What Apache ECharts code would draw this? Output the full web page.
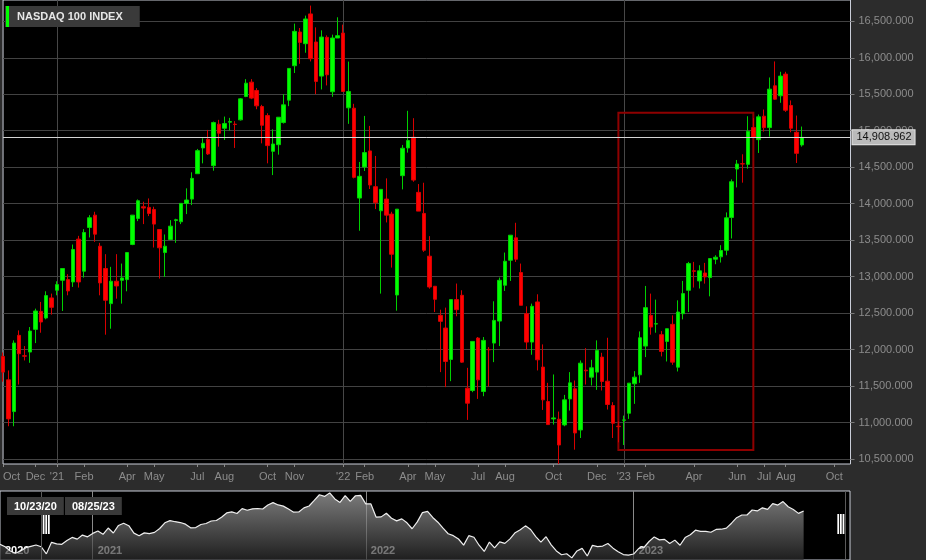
<!DOCTYPE html>
<html><head><meta charset="utf-8">
<script src="https://cdn.jsdelivr.net/npm/echarts@6/dist/echarts.min.js"></script>
<style>html,body{margin:0;padding:0;background:#2c2c2c;}#c{width:926px;height:560px;}</style>
</head><body><div id="c"></div>
<script>
// ---- data ----
const seriesName = 'NASDAQ 100 INDEX';
const startDate = '2020-10-23';      // first weekly candle
const mainWeeks = 158;               // weekly categories on the main axis
const navStartDate = '2020-08-28';   // navigator starts earlier
const navWeeks = 166;

const opens = [11906,11585,11150,12195,11915,11966,12277,12524,12433,12708,12813,12950,12959,12927,13514,13074,13674,13843,13417,13111,
12630,12937,12950,12959,13440,13798,13958,13949,13921,13646,13330,13509,13770,13752,14004,14063,14411,14764,14883,14521,
15089,15034,15117,15090,15149,15469,15666,15552,15332,15208,14718,14809,15112,15419,15891,16353,16193,16601,16216,15749,
16280,15534,16271,16339,15314,15309,14077,14503,14723,14233,13903,14063,13857,12748,14384,14764,14911,14155,13866,13280,
12868,12469,12295,11865,12685,12744,11471,11439,12158,11425,12002,12089,12391,12882,13225,13532,13056,12492,12103,12653,
11760,11288,11050,11045,10967,11324,11462,10898,11718,11622,11691,11897,11567,11233,10949,11031,11127,11531,11654,12048,
12469,12350,12204,12112,12346,11759,12492,12813,13079,12941,13050,12987,13239,13271,13362,13811,14475,14548,14539,15043,
14878,15199,15043,15616,15479,15776,15346,14979,14805];
const closes = [11691,11050,12089,11943,11910,12254,12529,12378,12740,12579,12891,13111,12804,13372,12927,13605,13807,13582,12914,12676,
12937,12872,12982,13330,13843,14040,13940,13866,13720,13395,13417,13692,13780,14004,14050,14347,14727,14828,14682,15112,
14966,15098,15126,15085,15437,15652,15447,15341,15075,14796,14818,15185,15355,15854,16362,16211,16532,15987,15676,16284,
15767,16271,16303,15538,15538,14361,14375,14700,14256,14013,14196,13843,13307,13925,14760,14865,14324,13898,13362,12858,
12689,12387,11837,12685,12547,11828,11265,12112,11585,12126,11997,12400,12950,13211,13568,13239,12607,12103,12593,11860,
11311,10972,11063,10692,11311,11544,10857,11814,11709,11750,11988,11563,11247,10990,10944,11036,11540,11622,12162,12575,
12309,12355,11975,12286,11828,12515,12767,13179,13074,13079,12996,13248,13266,13358,13806,14301,14544,14544,14992,14910,
15190,15043,15570,15432,15749,15281,15034,14690,14908.962];
const highs = [11960,11714,12126,12263,12048,12309,12561,12653,12799,12767,12937,13111,13033,13440,13559,13651,13843,13889,13463,13308,
13134,13308,13179,13330,13843,14058,14027,14072,13958,13646,13578,13774,13793,14004,14210,14430,14750,14896,15011,15126,
15149,15194,15176,15131,15447,15707,15707,15584,15355,15240,15020,15185,15501,15854,16468,16408,16578,16715,16417,16376,
16307,16317,16555,16454,15948,15369,14572,15203,15066,14654,14196,14347,13889,13925,14805,15273,15172,14269,14287,13555,
12868,12547,12575,12685,12905,12813,11750,12112,12172,12172,12034,12662,12987,13330,13568,13738,13179,12593,12630,12758,
12071,11544,11659,11150,11379,11691,11576,11851,12020,11860,12126,11956,12162,11279,11017,11095,11540,11704,12249,12872,
12767,12685,12254,12286,12469,12675,12941,13202,13202,13156,13188,13248,13293,13431,13880,14333,14599,14677,15199,15172,
15222,15291,15730,15950,15808,15808,15415,15208,15057];
const lows = [11560,10949,10949,11521,11851,11819,12089,12231,12415,12479,12744,12529,12744,12859,12850,12987,13537,13477,12744,12204,
12286,12698,12630,12799,13431,13761,13720,13830,13399,12973,12996,13500,13463,13720,13857,13981,14411,14553,14668,14452,
14782,14874,15002,14764,15140,15460,15433,15295,14827,14553,14392,14672,15098,15337,15791,15918,16069,15950,15502,15566,
15621,15465,16271,15538,15094,14347,13629,14448,14201,13926,12767,13743,13124,12533,14196,14700,14301,13898,13339,12835,
12515,11691,11485,11567,12456,11819,11036,11416,11324,11361,11494,11828,12048,12804,12941,13202,12607,12002,11929,11714,
11173,10972,10972,10431,10949,11164,10628,10788,11521,11508,11448,11439,11178,10788,10729,10692,11050,11256,11544,11897,
12204,12231,11906,11837,11791,11700,12414,12515,12850,12837,12904,12730,13170,13193,13293,13523,14223,14288,14480,14910,
14695,14988,14919,15424,15383,15258,14979,14558,14782];
// navigator closes for the weeks before the first candle (2020-08-28 .. 2020-10-16)
const navPreCloses = [11911,11695,11309,11102,11309,11605,11731,11848];

const xTickDates = ['2020-10-23','2020-12-04','2021-01-01','2021-02-05','2021-04-02','2021-05-07','2021-07-02','2021-08-06','2021-10-01','2021-11-05',
'2022-01-07','2022-02-04','2022-04-01','2022-05-06','2022-07-01','2022-08-05','2022-10-07','2022-12-02','2023-01-06','2023-02-03',
'2023-04-07','2023-06-02','2023-07-07','2023-08-04','2023-10-06'];
const xTickLabels = ['Oct','Dec',"'21",'Feb','Apr','May','Jul','Aug','Oct','Nov',"'22",'Feb','Apr','May','Jul','Aug','Oct','Dec',"'23",'Feb','Apr','Jun','Jul','Aug','Oct'];
const yearLineDates = ['2021-01-01','2022-01-07','2023-01-06'];
const yTickValues = [10500,11000,11500,12000,12500,13000,13500,14000,14500,15000,15500,16000,16500];
const navYearDates = ['2020-08-28','2021-01-01','2022-01-07','2023-01-06'];
const navYearLabels = ['2020','2021','2022','2023'];
const rangeStartLabel = '10/23/20';
const rangeEndLabel = '08/25/23';
const lastPrice = closes[closes.length - 1];
const boxCorner1 = ['2022-12-30', 15247];
const boxCorner2 = ['2023-06-23', 10623];
const navSelStart = '2020-10-23';
const navSelEnd = '2023-10-20';
const navHandleLevel = 13735;

// ---- build ----
const DAY = 86400000;
function weekDates(start, n) {
  const t0 = Date.parse(start + 'T00:00:00Z'); const out = [];
  for (let k = 0; k < n; k++) out.push(new Date(t0 + k * 7 * DAY).toISOString().slice(0, 10));
  return out;
}
const mainCats = weekDates(startDate, mainWeeks);
const navCats = weekDates(navStartDate, navWeeks);
const candleData = opens.map((o, i) => [o, closes[i], lows[i], highs[i]]);
const navCloses = navPreCloses.concat(closes);
const fmt3 = v => Number(v).toLocaleString('en-US', {minimumFractionDigits: 3, maximumFractionDigits: 3});
const FONT = "'Liberation Sans', Arial, sans-serif";

const chart = echarts.init(document.getElementById('c'), null, {renderer: 'canvas'});
const handlePath = 'path://M0,0h2v20h-2zM3,0h2v20h-2zM6,0h2v20h-2z';
const boxTitle = (text, left) => ({
  text, left, top: 497, backgroundColor: '#3a3a3a', padding: [4, 7, 3, 7],
  textStyle: {color: '#ffffff', fontSize: 11, fontWeight: 'bold', fontFamily: FONT}
});

chart.setOption({
  backgroundColor: '#2c2c2c',
  animation: false,
  textStyle: {fontFamily: FONT},
  title: [boxTitle(rangeStartLabel, 7), boxTitle(rangeEndLabel, 65)],
  legend: {
    left: 5, top: 6, padding: [0, 17, 0, 1], itemWidth: 3, itemHeight: 21,
    backgroundColor: '#3a3a3a', selectedMode: false,
    textStyle: {color: '#e6e6e6', fontSize: 11, fontWeight: 'bold', fontFamily: FONT, padding: [0, 0, 0, 3]},
    data: [{name: seriesName, icon: 'rect', itemStyle: {color: '#00ff00', borderWidth: 0}}]
  },
  grid: [
    {left: 0, top: 0, right: 75.5, bottom: 96, show: true, backgroundColor: '#000', borderColor: '#c9cdd8', borderWidth: 1},
    {left: 0, top: 491, right: 76, bottom: 0, show: true, backgroundColor: '#000', borderColor: '#c9cdd8', borderWidth: 1}
  ],
  xAxis: [
    {
      type: 'category', gridIndex: 0, data: mainCats, boundaryGap: false,
      axisLine: {show: false},
      axisTick: {show: true, length: 3, interval: (i, v) => xTickDates.includes(v), lineStyle: {color: '#8a8a8a'}},
      axisLabel: {
        interval: (i, v) => xTickDates.includes(v), color: '#8c8c8c', fontSize: 11, margin: 7, fontFamily: FONT,
        formatter: (v) => { const k = xTickDates.indexOf(v); if (k < 0) return ''; return k === 0 ? '{first|' + xTickLabels[k] + '}' : xTickLabels[k]; },
        rich: {first: {padding: [0, 0, 0, 17], color: '#8c8c8c', fontSize: 11, fontFamily: FONT}}
      },
      splitLine: {show: true, interval: (i, v) => yearLineDates.includes(v), lineStyle: {color: '#474747'}}
    },
    {
      type: 'category', gridIndex: 1, data: navCats, boundaryGap: false,
      axisLine: {show: false}, axisTick: {show: false},
      axisLabel: {
        inside: true, margin: 4, align: 'left', padding: [0, 0, 0, 5],
        interval: (i, v) => navYearDates.includes(v),
        formatter: (v) => { const k = navYearDates.indexOf(v); return k < 0 ? '' : navYearLabels[k]; },
        color: '#ffffff', fontSize: 11, fontWeight: 'bold', fontFamily: FONT, textBorderColor: '#000', textBorderWidth: 2
      },
      splitLine: {show: true, interval: (i, v) => navYearDates.indexOf(v) > 0, lineStyle: {color: '#8a8a8a'}}
    }
  ],
  yAxis: [
    {
      type: 'value', gridIndex: 0, position: 'right', min: 10431.5, max: 16792, scale: true,
      axisLine: {show: false},
      axisTick: {show: true, length: 4, customValues: yTickValues, lineStyle: {color: '#7a7a7a'}},
      axisLabel: {customValues: yTickValues, formatter: fmt3, color: '#8c8c8c', fontSize: 11, margin: 8, fontFamily: FONT},
      splitLine: {show: true, lineStyle: {color: '#424242'}}
    },
    {type: 'value', gridIndex: 1, min: 10500, max: 16700, show: false}
  ],
  series: [
    {
      name: seriesName, type: 'candlestick', xAxisIndex: 0, yAxisIndex: 0, data: candleData,
      barWidth: 4, clip: true,
      itemStyle: {color: '#00ff00', color0: '#ff0000', borderColor: '#00d000', borderColor0: '#d80000', borderWidth: 1},
      markLine: {
        silent: true, symbol: ['none', 'none'], animation: false,
        lineStyle: {color: '#d4d4d4', width: 1, type: 'solid'},
        label: {
          position: 'end', distance: 2, formatter: () => fmt3(lastPrice),
          backgroundColor: '#bababa', borderColor: '#e2e2e2', borderWidth: 1, padding: [2, 3, 1, 4],
          color: '#111', fontSize: 11, fontFamily: FONT
        },
        data: [{yAxis: lastPrice}]
      },
      markArea: {
        silent: true,
        itemStyle: {color: 'rgba(0,0,0,0)', borderColor: '#8e0000', borderWidth: 2},
        data: [[{coord: boxCorner1}, {coord: boxCorner2}]]
      }
    },
    {
      name: 'navigator', type: 'line', xAxisIndex: 1, yAxisIndex: 1, data: navCloses,
      symbol: 'none', silent: true,
      lineStyle: {color: '#eeeeee', width: 1.2},
      areaStyle: {color: new echarts.graphic.LinearGradient(0, 0, 0, 1, [{offset: 0, color: '#b0b0b0'}, {offset: 1, color: '#2c2c2c'}])},
      markLine: {
        silent: true, symbol: ['none', 'none'], label: {show: false},
        lineStyle: {color: '#5a5a5a', width: 1, type: 'solid'},
        data: [{xAxis: navSelStart}, {xAxis: navSelEnd}]
      },
      markPoint: {
        silent: true, symbol: handlePath, symbolSize: [7, 20], itemStyle: {color: '#ffffff'}, label: {show: false},
        data: [{coord: [navSelStart, navHandleLevel], symbolOffset: [5, 0]}, {coord: [navSelEnd, navHandleLevel], symbolOffset: [-4, 0]}]
      }
    }
  ]
});
</script></body></html>
